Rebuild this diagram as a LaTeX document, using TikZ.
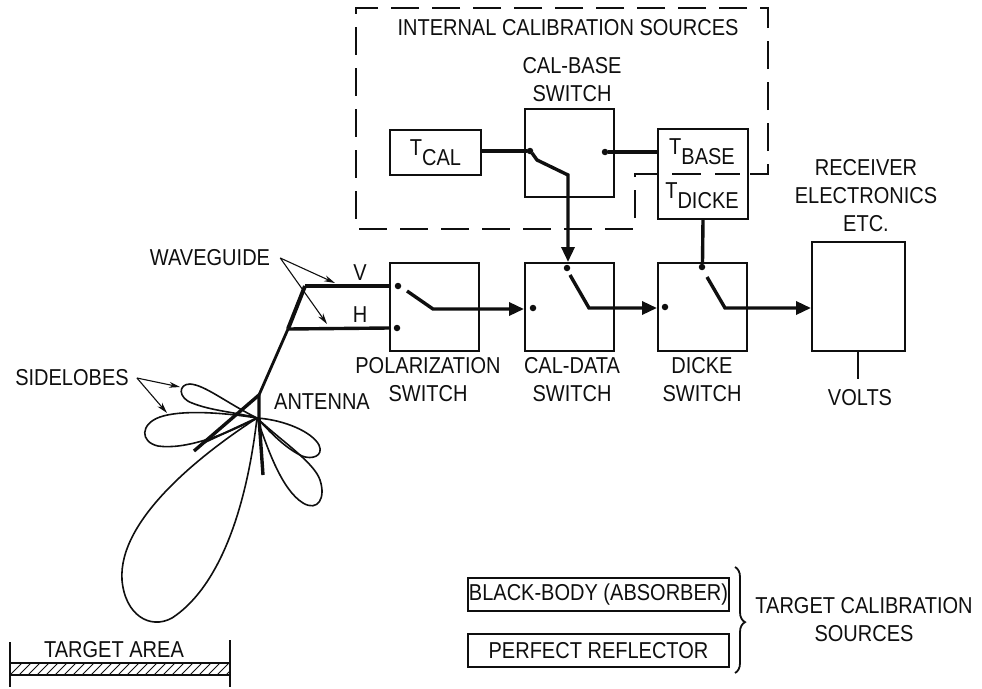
\documentclass[tikz,border=0pt]{standalone}
\usepackage{fontspec}
\setmainfont[FakeStretch=0.87]{Liberation Sans}
\usetikzlibrary{arrows.meta,decorations.pathreplacing}
\definecolor{inkblack}{RGB}{15,15,15}

\begin{document}
\begin{tikzpicture}[
  x=1pt, y=-1pt,
  color=inkblack,
  lbl/.style={align=center, inner sep=0pt, font=\fontsize{23}{28}\selectfont},
  box/.style={draw, line width=2pt, inner sep=0pt, anchor=north west},
  switchbox/.style={box, minimum width=89pt, minimum height=88pt},
  wire/.style={line width=3.4pt},
  feed/.style={wire, -{Triangle[length=15pt, width=13pt]}},
  contact/.style={circle, fill, inner sep=0pt, minimum size=6.5pt},
  lobe/.style={line width=1.6pt},
  pointer/.style={line width=1.1pt, -{Stealth[length=11pt, width=6pt]}},
]
\useasboundingbox (0,0) rectangle (982,688);

% switches
\node[switchbox] (calbase) at (524,108) {};
\node[switchbox] (pol) at (389,262) {};
\node[switchbox] (caldata) at (524,262) {};
\node[switchbox] (dicke) at (657,262) {};
\node[box, minimum width=91pt, minimum height=45pt] (tcal) at (389,129) {};
\node[box, minimum width=90pt, minimum height=90pt] (tref) at (657,128) {};
\node[box, minimum width=93pt, minimum height=109pt] (recv) at (811,241) {};
\node[box, minimum width=261pt, minimum height=33pt] (black) at (467,577) {};
\node[box, minimum width=261pt, minimum height=33pt] (mirror) at (467,633) {};

% internal sources outline
\coordinate (notch) at (635,174);
\draw[line width=1.8pt, dash pattern=on 28pt off 13pt]
  (750,174) -- (768,174) -- (768,8) -- (356,8) -- (356,229) -- (635,229) -- (notch) -- (tref.west |- notch);
\draw[line width=1.8pt, dash pattern=on 29pt off 14pt] (672,174) -- (740,174);

% contacts
\node[contact] (calin) at (530,151) {};
\node[contact] (calout) at (605,152) {};
\node[contact] (polv) at (398,286) {};
\node[contact] (polh) at (397,328) {};
\node[contact] (datain) at (533,308) {};
\node[contact] (datacal) at (567,268) {};
\node[contact] (dickein) at (665,307) {};
\node[contact] (dickeref) at (702,267) {};

% wiring
\coordinate (vbend) at (305,286);
\coordinate (hbend) at (288,329);
\coordinate (apex) at (259,395);
\draw[wire, line cap=round] (tcal.east |- calin) -- (calin);
\draw[wire] (calout.east) -- (tref.west |- calout);
\draw[wire] (tref.south) -- (dicke.north);
\draw[wire] (vbend) -- (polv.west -| pol.west);
\draw[wire] (hbend) -- (polh.west -| pol.west);
\draw[wire, line width=4pt] (vbend) -- (hbend);
\draw[wire, line width=2.8pt] (hbend) -- (apex);
\coordinate (calarm) at (532,153);
\coordinate (calknee) at (537,160);
\coordinate (caldrop) at (568,175);
\draw[feed] (calarm) -- (calknee) -- (caldrop) -- (caldrop |- caldata.north);
\coordinate (polarm) at (407,291);
\coordinate (polknee) at (433,309);
\draw[feed] (polarm) -- (polknee) -- (polknee -| caldata.west);
\coordinate (dataarm) at (570,275);
\coordinate (dataknee) at (589,308);
\draw[feed] (dataarm) -- (dataknee) -- (dataknee -| dicke.west);
\coordinate (dickearm) at (707,277);
\coordinate (dickeknee) at (725,308);
\draw[feed] (dickearm) -- (dickeknee) -- (dickeknee -| recv.west);
\coordinate (voltsend) at (858,379);
\draw[wire, line width=2.4pt] (recv.south -| voltsend) -- (voltsend);

% antenna and pattern
\coordinate (beam) at (257,418);
\draw[wire] (apex) -- (194,451);
\draw[wire] (apex) -- (259,418) -- (263,475);
\draw[line width=2pt] (beam) -- (201,444);
\draw[lobe] (beam) .. controls (225,402) and (205,385) .. (190,384) .. controls (178,384) and (178,398) .. (192,403) .. controls (212,411) and (235,412) .. (beam);
\draw[lobe] (beam) .. controls (220,412) and (180,410) .. (160,417) .. controls (140,424) and (140,442) .. (158,446) .. controls (185,450) and (225,435) .. (beam);
\draw[lobe] (beam) .. controls (200,455) and (118,520) .. (122,580) .. controls (125,615) and (150,630) .. (172,618) .. controls (215,590) and (245,520) .. (beam);
\draw[lobe] (beam) .. controls (285,420) and (312,432) .. (319,445) .. controls (324,456) and (312,460) .. (302,456) .. controls (285,448) and (270,432) .. (beam);
\draw[lobe] (beam) .. controls (268,450) and (282,490) .. (303,503) .. controls (318,512) and (326,498) .. (320,480) .. controls (314,462) and (280,440) .. (beam);

% target area
\coordinate (tgtl) at (10,663);
\coordinate (tgtr) at (230,675);
\begin{scope}
  \clip (tgtl) rectangle (tgtr);
  \foreach \hx in {10,19,...,244}
    \draw[line width=1pt] (\hx,675) -- (\hx+12,663);
\end{scope}
\draw[line width=1.6pt] (tgtl) rectangle (tgtr);
\draw[line width=1.6pt] (10,642) -- (10,687) (230,640) -- (230,687);

% labels
\node[lbl] (titleint) at (568,28) {INTERNAL CALIBRATION SOURCES};
\node[lbl] (lblcalbase) at (572,80) {CAL-BASE\\SWITCH};
\node[lbl] (lbltcal) at (tcal.center) {T\raisebox{-10pt}{CAL}};
\node[lbl] (lbltbase) at (702,152) {T\raisebox{-10pt}{BASE}};
\node[lbl] (lbltdicke) at (702,196) {T\raisebox{-10pt}{DICKE}};
\node[lbl] (lblrecv) at (866,196) {RECEIVER\\ELECTRONICS\\ETC.};
\node[lbl] (lblv) at (360,273) {V};
\node[lbl] (lblh) at (360,315) {H};
\node[lbl] (lblpol) at (428,380) {POLARIZATION\\SWITCH};
\node[lbl] (lbldata) at (572,380) {CAL-DATA\\SWITCH};
\node[lbl] (lbldicke) at (702,380) {DICKE\\SWITCH};
\node[lbl] (lblvolts) at (860,398) {VOLTS};
\node[lbl] (lblguide) at (210,258) {WAVEGUIDE};
\node[lbl] (lbllobes) at (72,378) {SIDELOBES};
\node[lbl] (lblant) at (322,402) {ANTENNA};
\node[lbl] (lbltgt) at (114,650) {TARGET AREA};
\node[lbl] (lblblack) at (black.center) {BLACK-BODY (ABSORBER)};
\node[lbl] (lblmirror) at (mirror.center) {PERFECT REFLECTOR};
\node[lbl] (lblsrc) at (864,620) {TARGET CALIBRATION\\SOURCES};

% pointers and brace
\draw[pointer] (lblguide.east) ++(10,0) coordinate (gfork) -- (335,283);
\draw[pointer] (gfork) -- (327,324);
\draw[pointer] (lbllobes.east) ++(8,0) coordinate (lfork) -- (180,387);
\draw[pointer] (lfork) -- (167,413);
\coordinate (bracetop) at (735,567);
\coordinate (bracebot) at (735,673);
\draw[line width=1.8pt, decorate, decoration={brace, amplitude=10pt, aspect=0.52}] (bracetop) -- (bracebot);
\end{tikzpicture}
\end{document}
